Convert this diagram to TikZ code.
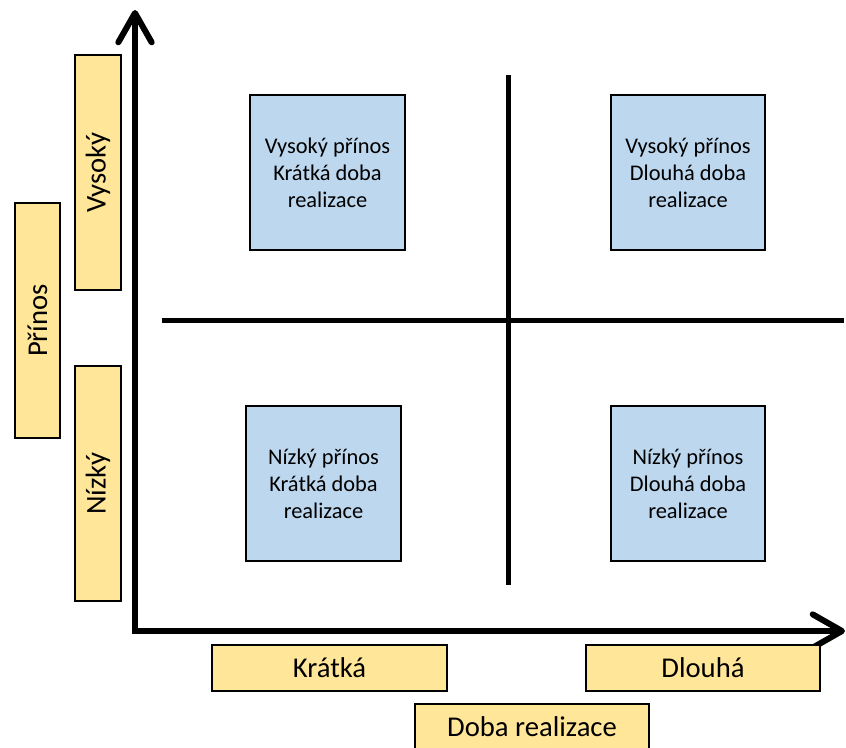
\documentclass[tikz,border=0pt]{standalone}
\usepackage{fontspec}
\setmainfont{Carlito}
\usetikzlibrary{arrows.meta}
\definecolor{cellblue}{HTML}{BDD7EE}
\definecolor{labelyellow}{HTML}{FFE699}
\begin{document}
\begin{tikzpicture}[x=0.75pt,y=-0.75pt,
  cell/.style={draw=black,line width=1.5pt,fill=cellblue,minimum width=116pt,minimum height=116pt,
    inner sep=0pt,align=center,font=\fontsize{16.8pt}{20.3pt}\selectfont},
  tag/.style={draw=black,line width=1.5pt,fill=labelyellow,minimum width=176pt,minimum height=34pt,
    inner sep=0pt,font=\fontsize{21.5pt}{24pt}\selectfont},
  vtag/.style={tag,rotate=90},
  axis/.style={line width=4.5pt,line join=miter,
    arrows={Straight Barb[length=22pt,width=25pt,round]-Straight Barb[length=22pt,width=25pt,round]}},
  divider/.style={line width=3.75pt}]
\useasboundingbox (0,0) rectangle (846,747);
% axes
\coordinate (origin) at (135,631);
\coordinate (ytip) at (135,10);
\coordinate (xtip) at (845,631);
\draw[axis] (ytip) -- (origin) -- (xtip);
% quadrant dividers
\coordinate (hl) at (162,320);
\coordinate (hr) at (844,320);
\coordinate (vt) at (508,75);
\coordinate (vb) at (508,585);
\draw[divider] (hl) -- (hr);
\draw[divider] (vt) -- (vb);
% quadrants
\node[cell] (hs) at (327.5,172.5) {Vysoký přínos\\Krátká doba\\realizace};
\node[cell] (hl2) at (688,172.5) {Vysoký přínos\\Dlouhá doba\\realizace};
\node[cell] (ls) at (323.5,483.5) {Nízký přínos\\Krátká doba\\realizace};
\node[cell] (ll) at (688,483.5) {Nízký přínos\\Dlouhá doba\\realizace};
% axis labels
\node[vtag] (vys) at (98,172.5) {Vysoký};
\node[vtag] (niz) at (98,483.5) {Nízký};
\node[vtag] (prin) at (37.5,320.5) {Přínos};
\node[tag] (krat) at (329.5,668) {Krátká};
\node[tag] (dlou) at (703,668) {Dlouhá};
\node[tag] (doba) at (532,727) {Doba realizace};
\end{tikzpicture}
\end{document}
